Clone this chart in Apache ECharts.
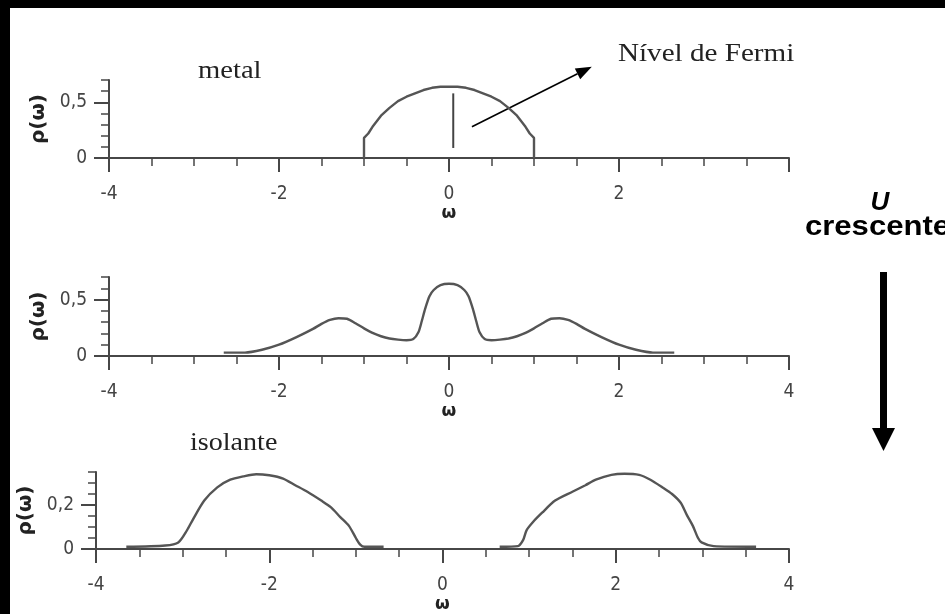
<!DOCTYPE html>
<html>
<head>
<meta charset="utf-8">
<script src="https://cdn.jsdelivr.net/npm/echarts@6/dist/echarts.min.js"></script>
<style>
  html, body { margin: 0; padding: 0; background: #fff; }
  #chart { width: 945px; height: 614px; }
</style>
</head>
<body>
<div id="chart"></div>
<script>
// ω axis ticks shared by the three panels
const omegaTicks = [-4, -2, 0, 2, 4];

// Metal: semicircular band
const metalOmega = [-1, -1, -0.95, -0.9, -0.8, -0.7, -0.6, -0.5, -0.4, -0.3, -0.2, -0.1, 0, 0.1, 0.2, 0.3, 0.4, 0.5, 0.6, 0.7, 0.8, 0.9, 0.95, 1, 1];
const metalRho   = [0, 0.18, 0.22, 0.28, 0.38, 0.45, 0.51, 0.55, 0.58, 0.61, 0.63, 0.64, 0.64, 0.64, 0.63, 0.61, 0.58, 0.55, 0.51, 0.45, 0.38, 0.28, 0.22, 0.18, 0];

// Fermi level marker
const fermiOmega = [0.05, 0.05];
const fermiRho   = [0.09, 0.58];

// Intermediate U: quasiparticle peak plus two Hubbard bands
const midOmega = [-2.65, -2.4, -2.2, -2.0, -1.8, -1.6, -1.5, -1.4, -1.3, -1.2, -1.1, -1.0, -0.9, -0.8, -0.7, -0.6, -0.5, -0.42, -0.36, -0.32, -0.28, -0.23, -0.18, -0.1, 0,
                  0.1, 0.18, 0.23, 0.28, 0.32, 0.36, 0.42, 0.5, 0.6, 0.7, 0.8, 0.9, 1.0, 1.1, 1.2, 1.3, 1.4, 1.5, 1.6, 1.8, 2.0, 2.2, 2.4, 2.65];
const midRho   = [0.03, 0.03, 0.055, 0.10, 0.165, 0.24, 0.285, 0.32, 0.335, 0.33, 0.29, 0.245, 0.205, 0.175, 0.155, 0.145, 0.14, 0.15, 0.21, 0.31, 0.42, 0.53, 0.585, 0.628, 0.64,
                  0.628, 0.585, 0.53, 0.42, 0.31, 0.21, 0.15, 0.14, 0.145, 0.155, 0.175, 0.205, 0.245, 0.29, 0.33, 0.335, 0.32, 0.285, 0.24, 0.165, 0.10, 0.055, 0.03, 0.03];

// Insulator: lower and upper Hubbard bands
const lowerOmega = [-3.65, -3.2, -3.05, -2.95, -2.88, -2.75, -2.6, -2.45, -2.3, -2.15, -2.0, -1.84, -1.7, -1.56, -1.4, -1.29, -1.18, -1.08, -1.0, -0.95, -0.9, -0.68];
const lowerRho   = [0.01, 0.016, 0.03, 0.085, 0.135, 0.22, 0.28, 0.315, 0.33, 0.34, 0.335, 0.32, 0.29, 0.26, 0.22, 0.19, 0.145, 0.105, 0.05, 0.02, 0.01, 0.01];
const upperOmega = [0.66, 0.87, 0.93, 0.97, 1.05, 1.15, 1.3, 1.5, 1.65, 1.77, 1.95, 2.1, 2.27, 2.4, 2.54, 2.65, 2.75, 2.82, 2.89, 2.95, 2.99, 3.13, 3.62];
const upperRho   = [0.01, 0.013, 0.04, 0.085, 0.125, 0.165, 0.22, 0.26, 0.29, 0.315, 0.337, 0.342, 0.337, 0.315, 0.28, 0.25, 0.21, 0.155, 0.105, 0.05, 0.03, 0.013, 0.01];

// y-axis ranges and labelled ticks per panel
const rhoMax     = [0.7, 0.7, 0.35];
const rhoStep    = [0.1, 0.1, 0.05];
const rhoLabels  = [[0, 0.5], [0, 0.5], [0, 0.2]];

const pairs = (xs, ys) => xs.map((x, i) => [x, ys[i]]);

const axisGrey = '#474747';
const labelGrey = '#444';
const curveGrey = '#555';
const labelFont = '"DejaVu Sans Condensed", "DejaVu Sans", sans-serif';
const serifFont = '"Liberation Serif", "Times New Roman", serif';
const sansFont = '"Liberation Sans", Arial, sans-serif';

const grids = [
  { left: 109, top: 80,  width: 680, height: 78 },
  { left: 109, top: 277, width: 680, height: 79 },
  { left: 96,  top: 472, width: 693, height: 77 }
];

function xAxisFor(i, hideLast) {
  return {
    type: 'value', gridIndex: i, min: omegaTicks[0], max: omegaTicks[omegaTicks.length - 1], interval: 2,
    axisLine: { onZero: false, lineStyle: { color: axisGrey, width: 2 } },
    axisTick: { length: 14, lineStyle: { color: axisGrey, width: 2 } },
    minorTick: { show: true, splitNumber: 4, length: 8, lineStyle: { color: axisGrey, width: 1.5 } },
    splitLine: { show: false },
    axisLabel: {
      color: labelGrey, fontSize: 19, fontFamily: labelFont, margin: 27,
      formatter: v => (hideLast && v === 4) ? '' : String(v)
    },
    name: 'ω', nameLocation: 'middle', nameGap: 47,
    nameTextStyle: { color: '#222', fontSize: 17, fontWeight: 'bold', fontFamily: 'DejaVu Sans' }
  };
}

function yAxesFor(i) {
  const common = { type: 'value', gridIndex: i, position: 'left', min: 0, max: rhoMax[i], splitLine: { show: false } };
  return [
    Object.assign({}, common, {
      interval: rhoStep[i],
      axisLine: { show: true, onZero: false, lineStyle: { color: axisGrey, width: 2 } },
      axisTick: { length: 8, lineStyle: { color: axisGrey, width: 1.5 } },
      axisLabel: { show: false }
    }),
    Object.assign({}, common, {
      axisLine: { show: false, onZero: false },
      axisTick: { customValues: rhoLabels[i], length: 15, lineStyle: { color: axisGrey, width: 2 } },
      axisLabel: {
        customValues: rhoLabels[i], color: labelGrey, fontSize: 19, fontFamily: labelFont, margin: 22,
        formatter: v => String(v).replace('.', ',')
      },
      name: 'ρ(ω)', nameLocation: 'middle', nameGap: i === 2 ? 54 : 56,
      nameTextStyle: { color: '#222', fontSize: 20, fontWeight: 'bold', fontFamily: 'DejaVu Sans' }
    })
  ];
}

const curve = (name, x, y, data) => ({
  name, type: 'line', xAxisIndex: x, yAxisIndex: y, data,
  showSymbol: false, symbol: 'none', smooth: 0.25,
  lineStyle: { color: curveGrey, width: 2.4 }
});

const chart = echarts.init(document.getElementById('chart'), null, { renderer: 'canvas' });

const option = {
  animation: false,
  backgroundColor: '#fff',
  grid: grids,
  xAxis: [xAxisFor(0, true), xAxisFor(1, false), xAxisFor(2, false)],
  yAxis: [...yAxesFor(0), ...yAxesFor(1), ...yAxesFor(2)],
  series: [
    Object.assign(curve('metal', 0, 0, pairs(metalOmega, metalRho)), { smooth: false }),
    Object.assign(curve('Fermi', 0, 0, pairs(fermiOmega, fermiRho)), { smooth: false, lineStyle: { color: '#444', width: 2 } }),
    curve('U intermédio', 1, 2, pairs(midOmega, midRho)),
    curve('banda inferior', 2, 4, pairs(lowerOmega, lowerRho)),
    curve('banda superior', 2, 4, pairs(upperOmega, upperRho))
  ]
};
chart.setOption(option);

// Arrow pointing from the Fermi level to its caption (given in panel-1 data units)
const arrowFrom = chart.convertToPixel({ gridIndex: 0 }, [0.27, 0.28]);
const arrowTo   = chart.convertToPixel({ gridIndex: 0 }, [1.68, 0.82]);
const ang = Math.atan2(arrowTo[1] - arrowFrom[1], arrowTo[0] - arrowFrom[0]);
const headLen = 16, headHalf = 6;
const bx = arrowTo[0] - headLen * Math.cos(ang), by = arrowTo[1] - headLen * Math.sin(ang);
const head = [
  arrowTo,
  [bx + headHalf * Math.sin(ang), by - headHalf * Math.cos(ang)],
  [bx - headHalf * Math.sin(ang), by + headHalf * Math.cos(ang)]
];

// Text drawn at (x, y), stretched horizontally from its left edge
const caption = (text, x, y, font, scaleX, fill) => ({
  type: 'text', x, y, scaleX, originX: 0, originY: 0, z: 10,
  style: { text, font, fill, textAlign: 'left', textVerticalAlign: 'middle' }
});

chart.setOption({
  graphic: [
    // frame
    { type: 'rect', shape: { x: 0, y: 0, width: 945, height: 8 }, style: { fill: '#000' }, z: 100 },
    { type: 'rect', shape: { x: 0, y: 0, width: 10, height: 614 }, style: { fill: '#000' }, z: 100 },
    // Fermi caption and arrow
    { type: 'line', shape: { x1: arrowFrom[0], y1: arrowFrom[1], x2: bx, y2: by }, style: { stroke: '#000', lineWidth: 1.6 } },
    { type: 'polygon', shape: { points: head }, style: { fill: '#000' } },
    caption('Nível de Fermi', 618, 54, '26px ' + serifFont, 1.12, '#222'),
    // panel captions
    caption('metal', 198, 71, '26px ' + serifFont, 1.1, '#222'),
    caption('isolante', 190, 443, '26px ' + serifFont, 1.08, '#222'),
    // increasing U
    { type: 'text', x: 880, y: 203, z: 10, style: { text: 'U', font: 'italic bold 26px ' + sansFont, fill: '#000', textAlign: 'center', textVerticalAlign: 'middle' } },
    caption('crescente', 805, 228, 'bold 27px ' + sansFont, 1.15, '#000'),
    { type: 'rect', shape: { x: 880, y: 272, width: 7, height: 158 }, style: { fill: '#000' } },
    { type: 'polygon', shape: { points: [[872, 428], [895, 428], [883.5, 451]] }, style: { fill: '#000' } }
  ]
});
</script>
</body>
</html>
